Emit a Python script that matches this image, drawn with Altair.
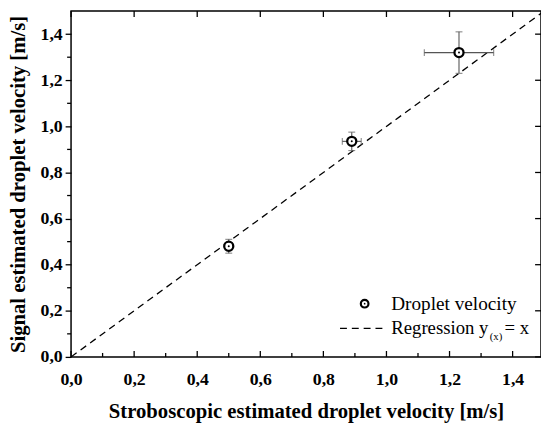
import altair as alt
import pandas as pd

# Data
strobo = [0.50, 0.89, 1.23]
signal = [0.48, 0.935, 1.32]
x_err = [0.01, 0.03, 0.11]
y_err = [0.03, 0.04, 0.09]
reg_x = [0.0, 1.5]
reg_y = [0.0, 1.5]

major = [0.0, 0.2, 0.4, 0.6, 0.8, 1.0, 1.2, 1.4]
minor = [0.1, 0.3, 0.5, 0.7, 0.9, 1.1, 1.3]

pts = pd.DataFrame({"x": strobo, "y": signal, "xe": x_err, "ye": y_err})
pts["xl"] = pts.x - pts.xe
pts["xh"] = pts.x + pts.xe
pts["yl"] = pts.y - pts.ye
pts["yh"] = pts.y + pts.ye
reg = pd.DataFrame({"x": reg_x, "y": reg_y})
maj_df = pd.DataFrame({"v": major})
min_df = pd.DataFrame({"v": minor})

W, H = 477, 351
FONT = "Liberation Serif"
xs = alt.Scale(domain=[0, 1.49], nice=False, zero=False)
ys = alt.Scale(domain=[0, 1.5], nice=False, zero=False)
LBL = "replace(format(datum.value, '.1f'), '.', ',')"
XT = "Stroboscopic estimated droplet velocity [m/s]"
YT = "Signal estimated droplet velocity [m/s]"

common = dict(domain=False, grid=False, tickColor="black", tickWidth=1.3, labelFlush=False,
              labels=True, labelFont=FONT, labelFontSize=18, labelFontWeight="bold",
              labelColor="black", titleFont=FONT, titleFontSize=21, titleFontWeight="bold",
              titleColor="black", labelExpr=LBL, values=major)

line = alt.Chart(reg).mark_line(color="black", strokeWidth=1.3, strokeDash=[7, 5], clip=True).encode(
    x=alt.X("x:Q", scale=xs, axis=alt.Axis(orient="bottom", ticks=False, labelPadding=14,
                                           titlePadding=13, title=XT, **common)),
    y=alt.Y("y:Q", scale=ys, axis=alt.Axis(orient="left", ticks=True, tickSize=6, labelPadding=3,
                                           titlePadding=12, title=YT, **common)),
)

TK = dict(color="black", strokeWidth=1.3)
# inward / minor ticks, placed through the same scales
bot_major = alt.Chart(maj_df).mark_rule(**TK).encode(
    x=alt.X("v:Q", scale=xs, axis=None), y=alt.value(H), y2=alt.value(H - 6))
bot_minor = alt.Chart(min_df).mark_rule(**TK).encode(
    x=alt.X("v:Q", scale=xs, axis=None), y=alt.value(H), y2=alt.value(H - 4))
top_major = alt.Chart(maj_df).mark_rule(**TK).encode(
    x=alt.X("v:Q", scale=xs, axis=None), y=alt.value(0), y2=alt.value(6))
left_minor = alt.Chart(min_df).mark_rule(**TK).encode(
    y=alt.Y("v:Q", scale=ys, axis=None), x=alt.value(0), x2=alt.value(-4))
right_major = alt.Chart(maj_df).mark_rule(**TK).encode(
    y=alt.Y("v:Q", scale=ys, axis=None), x=alt.value(W), x2=alt.value(W - 6))

base = alt.Chart(pts)
EC = "#555555"
ebx = base.mark_rule(color=EC, strokeWidth=1.1).encode(
    x=alt.X("xl:Q", scale=xs, axis=None), x2="xh:Q", y=alt.Y("y:Q", scale=ys, axis=None))
eby = base.mark_rule(color=EC, strokeWidth=1.1).encode(
    x=alt.X("x:Q", scale=xs, axis=None), y=alt.Y("yl:Q", scale=ys, axis=None), y2="yh:Q")
capy_lo = base.mark_tick(color=EC, orient="horizontal", size=7, thickness=1.1).encode(
    x=alt.X("x:Q", scale=xs, axis=None), y=alt.Y("yl:Q", scale=ys, axis=None))
capy_hi = base.mark_tick(color=EC, orient="horizontal", size=7, thickness=1.1).encode(
    x=alt.X("x:Q", scale=xs, axis=None), y=alt.Y("yh:Q", scale=ys, axis=None))
capx_lo = base.mark_tick(color=EC, orient="vertical", size=7, thickness=1.1).encode(
    x=alt.X("xl:Q", scale=xs, axis=None), y=alt.Y("y:Q", scale=ys, axis=None))
capx_hi = base.mark_tick(color=EC, orient="vertical", size=7, thickness=1.1).encode(
    x=alt.X("xh:Q", scale=xs, axis=None), y=alt.Y("y:Q", scale=ys, axis=None))
ring = base.mark_point(shape="circle", size=85, color="black", strokeWidth=2.3, fill="white", filled=False, opacity=1).encode(
    x=alt.X("x:Q", scale=xs, axis=None), y=alt.Y("y:Q", scale=ys, axis=None))
dot = base.mark_point(shape="circle", size=4, color="black", filled=True, opacity=1).encode(
    x=alt.X("x:Q", scale=xs, axis=None), y=alt.Y("y:Q", scale=ys, axis=None))

one = pd.DataFrame({"a": [0]})
lb = alt.Chart(one)
leg_ring = lb.mark_point(shape="circle", size=60, color="black", strokeWidth=2.2, filled=False, opacity=1).encode(
    x=alt.value(298), y=alt.value(297))
leg_dot = lb.mark_point(shape="circle", size=3, color="black", filled=True, opacity=1).encode(
    x=alt.value(298), y=alt.value(297))
leg_t1 = lb.mark_text(align="left", baseline="middle", font=FONT, fontSize=19.5, color="black").encode(
    x=alt.value(325), y=alt.value(297), text=alt.value("Droplet velocity"))
leg_line = lb.mark_rule(color="black", strokeWidth=1.3, strokeDash=[7, 5]).encode(
    x=alt.value(273), x2=alt.value(318), y=alt.value(322))
leg_t2 = lb.mark_text(align="left", baseline="middle", font=FONT, fontSize=19, color="black").encode(
    x=alt.value(325), y=alt.value(322), text=alt.value("Regression y"))
leg_t3 = lb.mark_text(align="left", baseline="middle", font=FONT, fontSize=11, color="black").encode(
    x=alt.value(425), y=alt.value(331), text=alt.value("(x)"))
leg_t4 = lb.mark_text(align="left", baseline="middle", font=FONT, fontSize=19, color="black").encode(
    x=alt.value(440), y=alt.value(322), text=alt.value("= x"))

chart = alt.layer(
    line, bot_major, bot_minor, top_major, left_minor, right_major,
    ebx, eby, capy_lo, capy_hi, capx_lo, capx_hi, ring, dot,
    leg_ring, leg_dot, leg_t1, leg_line, leg_t2, leg_t3, leg_t4,
).resolve_axis(x="independent", y="independent").properties(
    width=W, height=H,
    autosize=alt.AutoSizeParams(type="none"),
    padding={"left": 64, "top": 0, "right": 0, "bottom": 68},
).configure_view(
    stroke="black", strokeWidth=1.5
)

chart.save("out.html", embed_options={"renderer": "svg", "actions": False})
